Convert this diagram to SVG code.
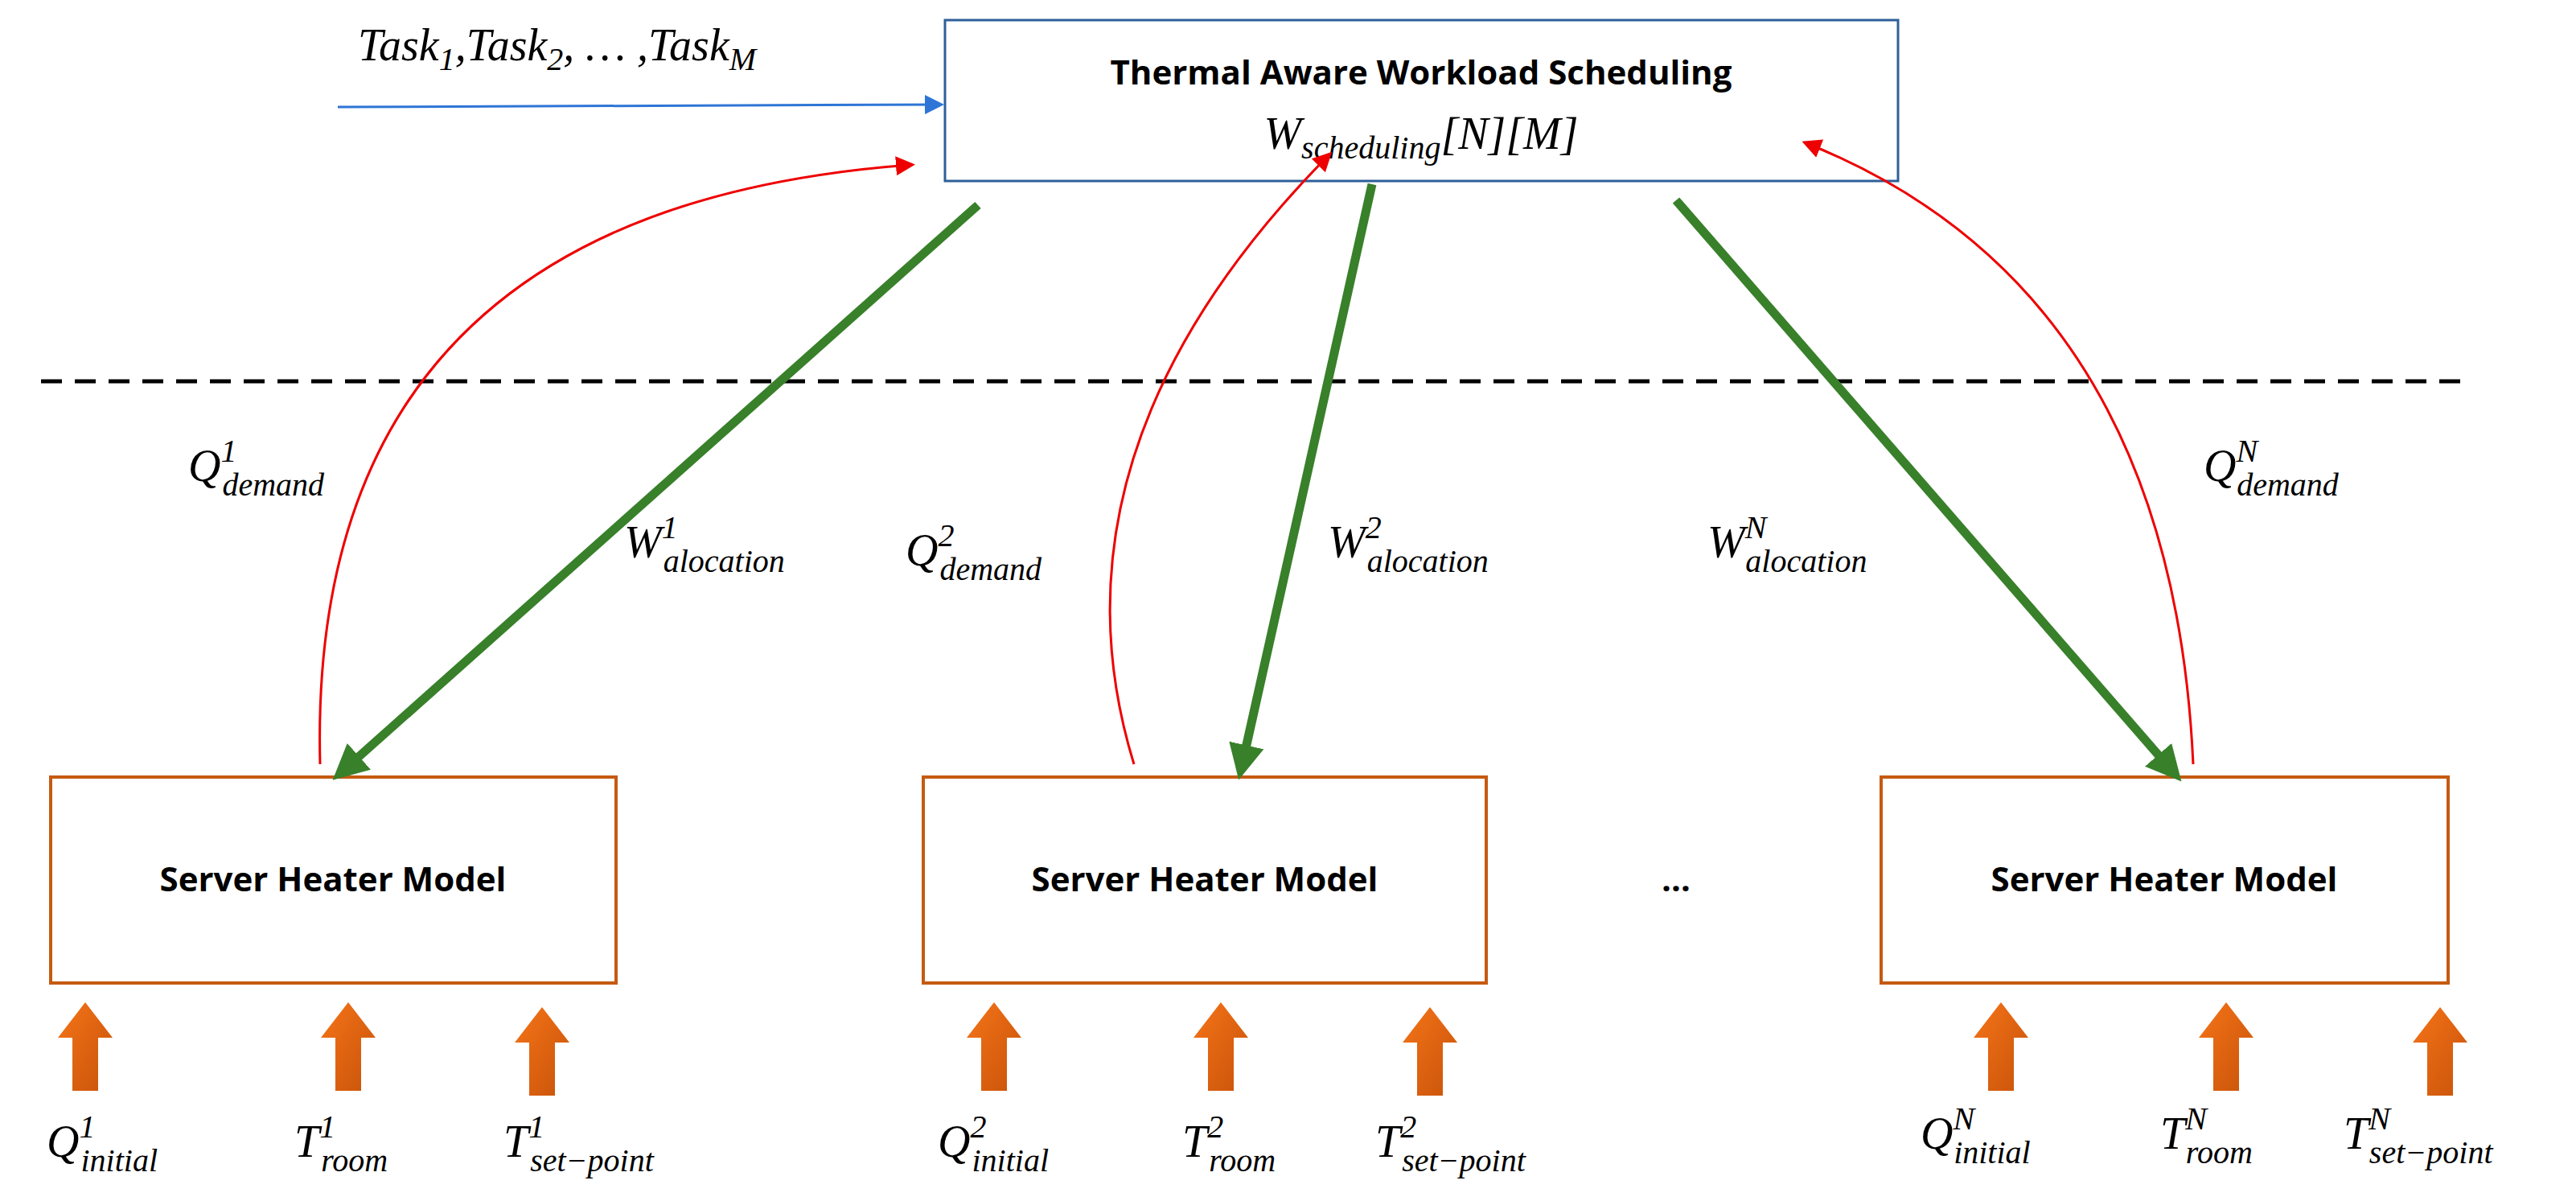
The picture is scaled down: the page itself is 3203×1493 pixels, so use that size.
<svg xmlns="http://www.w3.org/2000/svg" width="3203" height="1493" viewBox="0 0 3203 1493">
<style>
.m{font-family:"Liberation Serif",serif;font-style:italic;font-size:56px;fill:#000}
.s{font-size:40px}
.b{font-family:"Open Sans","Liberation Sans",sans-serif;font-weight:bold;font-size:42px;fill:#000;text-anchor:middle}
.srv{fill:#fff;stroke:#c55a11;stroke-width:4}
.g{stroke:#38802a;stroke-width:11;fill:none;marker-end:url(#ga)}
.r{stroke:#e00;stroke-width:3;fill:none;marker-end:url(#ra)}
.oa{fill:url(#og)}
</style>
<defs>
<marker id="ga" markerWidth="4" markerHeight="4" refX="2" refY="2" orient="auto" markerUnits="strokeWidth"><path d="M0,0 L4,2 L0,4 Z" fill="#38802a"/></marker>
<marker id="ra" markerWidth="8" markerHeight="8" refX="6" refY="4" orient="auto" markerUnits="strokeWidth"><path d="M0,0 L8,4 L0,8 Z" fill="#e00"/></marker>
<marker id="ba" markerWidth="8" markerHeight="8" refX="6" refY="4" orient="auto" markerUnits="strokeWidth"><path d="M0,0 L8,4 L0,8 Z" fill="#2e75d6"/></marker>
<linearGradient id="og" x1="0" y1="0" x2="1" y2="1"><stop offset="0" stop-color="#f57418"/><stop offset="1" stop-color="#c8530a"/></linearGradient>
<path id="oarr" d="M-34,0 L0,-44 L34,0 L16,0 L16,66 L-16,66 L-16,0 Z"/>
</defs>
<rect width="3203" height="1493" fill="#fff"/>
<g id="scheduler">
<rect x="1175" y="25" width="1185" height="200" fill="#fff" stroke="#2e5f9a" stroke-width="3"/>
<text class="b" x="1767" y="105">Thermal Aware Workload Scheduling</text>
<text class="m" x="1767" y="185" text-anchor="middle">W<tspan class="s" dy="12">scheduling</tspan><tspan dy="-12">[N][M]</tspan></text>
</g>
<text class="m" x="445" y="75">Task<tspan class="s" dy="12">1</tspan><tspan dy="-12">,Task</tspan><tspan class="s" dy="12">2</tspan><tspan dy="-12">, … ,Task</tspan><tspan class="s" dy="12">M</tspan></text>
<line x1="420" y1="133" x2="1168" y2="130" stroke="#2e75d6" stroke-width="3" marker-end="url(#ba)"/>
<line x1="51" y1="474" x2="3075" y2="474" stroke="#000" stroke-width="5" stroke-dasharray="26,16"/>
<g id="server1"><rect class="srv" x="63" y="966" width="703" height="256"/><text class="b" x="414" y="1108">Server Heater Model</text></g>
<g id="server2"><rect class="srv" x="1148" y="966" width="700" height="256"/><text class="b" x="1498" y="1108">Server Heater Model</text></g>
<g id="server3"><rect class="srv" x="2339" y="966" width="705" height="256"/><text class="b" x="2691" y="1108">Server Heater Model</text></g>
<text class="b" x="2084" y="1108">…</text>
<g id="inputs">
<use href="#oarr" x="106" y="1290" class="oa"/><use href="#oarr" x="433" y="1290" class="oa"/><use href="#oarr" x="674" y="1296" class="oa"/>
<use href="#oarr" x="1236" y="1290" class="oa"/><use href="#oarr" x="1518" y="1290" class="oa"/><use href="#oarr" x="1778" y="1296" class="oa"/>
<use href="#oarr" x="2488" y="1290" class="oa"/><use href="#oarr" x="2768" y="1290" class="oa"/><use href="#oarr" x="3034" y="1296" class="oa"/>
</g>
<g id="labels">
<text class="m" x="58" y="1438">Q<tspan class="s" dy="-24">1</tspan><tspan class="s" dx="-18" dy="42">initial</tspan></text>
<text class="m" x="366" y="1438">T<tspan class="s" dy="-24">1</tspan><tspan class="s" dx="-18" dy="42">room</tspan></text>
<text class="m" x="626" y="1438">T<tspan class="s" dy="-24">1</tspan><tspan class="s" dx="-18" dy="42">set−point</tspan></text>
<text class="m" x="1166" y="1438">Q<tspan class="s" dy="-24">2</tspan><tspan class="s" dx="-18" dy="42">initial</tspan></text>
<text class="m" x="1470" y="1438">T<tspan class="s" dy="-24">2</tspan><tspan class="s" dx="-18" dy="42">room</tspan></text>
<text class="m" x="1710" y="1438">T<tspan class="s" dy="-24">2</tspan><tspan class="s" dx="-18" dy="42">set−point</tspan></text>
<text class="m" x="2388" y="1428">Q<tspan class="s" dy="-24">N</tspan><tspan class="s" dx="-26" dy="42">initial</tspan></text>
<text class="m" x="2686" y="1428">T<tspan class="s" dy="-24">N</tspan><tspan class="s" dx="-26" dy="42">room</tspan></text>
<text class="m" x="2914" y="1428">T<tspan class="s" dy="-24">N</tspan><tspan class="s" dx="-26" dy="42">set−point</tspan></text>
<text class="m" x="234" y="598">Q<tspan class="s" dy="-24">1</tspan><tspan class="s" dx="-18" dy="42">demand</tspan></text>
<text class="m" x="776" y="693">W<tspan class="s" dy="-24">1</tspan><tspan class="s" dx="-18" dy="42">alocation</tspan></text>
<text class="m" x="1126" y="703">Q<tspan class="s" dy="-24">2</tspan><tspan class="s" dx="-18" dy="42">demand</tspan></text>
<text class="m" x="1651" y="693">W<tspan class="s" dy="-24">2</tspan><tspan class="s" dx="-18" dy="42">alocation</tspan></text>
<text class="m" x="2123" y="693">W<tspan class="s" dy="-24">N</tspan><tspan class="s" dx="-26" dy="42">alocation</tspan></text>
<text class="m" x="2740" y="598">Q<tspan class="s" dy="-24">N</tspan><tspan class="s" dx="-26" dy="42">demand</tspan></text>
</g>
<g id="connectors">
<line class="g" x1="1216" y1="255" x2="430" y2="955"/>
<line class="g" x1="1706" y1="229" x2="1545" y2="948"/>
<line class="g" x1="2084" y1="249" x2="2698" y2="955"/>
<path class="r" d="M398,950 Q380,260 1132,205"/>
<path class="r" d="M1410,950 Q1290,560 1652,193"/>
<path class="r" d="M2727,950 Q2700,360 2246,178"/>
</g>
</svg>
